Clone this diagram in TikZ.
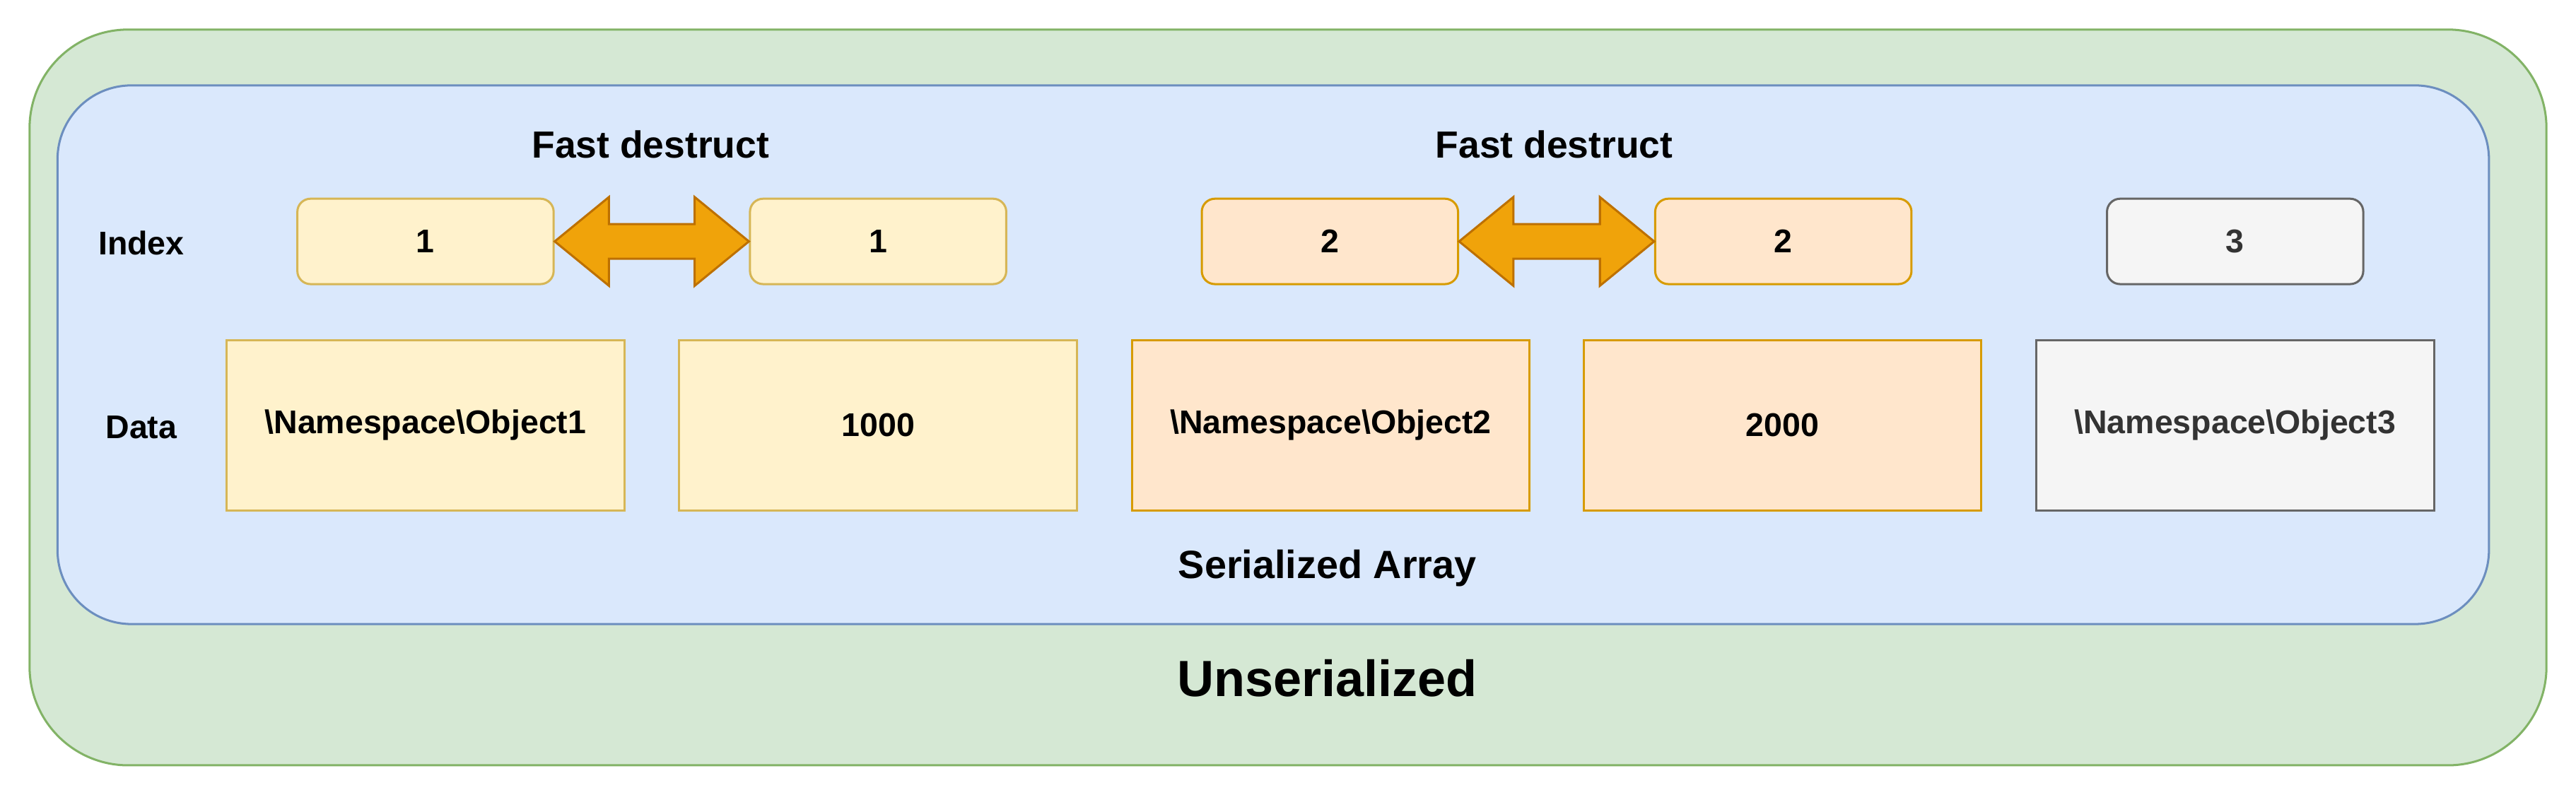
\documentclass[tikz,border=0pt]{standalone}
\usepackage{fontspec}
\setmainfont{Liberation Sans}
\begin{document}
\begin{tikzpicture}[x=1pt,y=-1pt,
  lbl/.style={font=\fontsize{20}{24}\selectfont\bfseries},
  ybox/.style={draw=yellowS,fill=yellowF,line width=1.3pt},
  obox/.style={draw=orangeS,fill=orangeF,line width=1.3pt},
  gbox/.style={draw=greyS,fill=greyF,line width=1.3pt,text=greyT},
  arr/.style={draw=arrS,fill=arrF,line width=1.3pt,line join=miter}]
\definecolor{yellowF}{HTML}{FFF2CC}\definecolor{yellowS}{HTML}{D6B656}
\definecolor{orangeF}{HTML}{FFE6CC}\definecolor{orangeS}{HTML}{D79B00}
\definecolor{greyF}{HTML}{F5F5F5}\definecolor{greyS}{HTML}{666666}\definecolor{greyT}{HTML}{333333}
\definecolor{arrF}{HTML}{F0A30A}\definecolor{arrS}{HTML}{BD7000}
\definecolor{gF}{HTML}{D5E8D4}\definecolor{gS}{HTML}{82B366}
\definecolor{bF}{HTML}{DAE8FC}\definecolor{bS}{HTML}{6C8EBF}
\useasboundingbox (0,0) rectangle (1568,484);
\draw[fill=gF,draw=gS,line width=1.3pt,rounded corners=60pt] (18,18) rectangle (1550,466);
\draw[fill=bF,draw=bS,line width=1.3pt,rounded corners=45pt] (35,52) rectangle (1515,380);
\node[lbl,font=\fontsize{23}{28}\selectfont\bfseries] (fd1) at (396,88) {Fast destruct};
\node[lbl,font=\fontsize{23}{28}\selectfont\bfseries] (fd2) at (946,88) {Fast destruct};
\node[lbl] (il) at (86,148) {Index};
\node[lbl] (dl) at (86,260) {Data};
\foreach \n/\x/\s/\t in {i1/259/ybox/1,i2/534.5/ybox/1,i3/809.5/obox/2,i4/1085.5/obox/2,i5/1360.5/gbox/3}
  \node[\s,lbl,rounded corners=8pt,minimum width=156pt,minimum height=52pt] (\n) at (\x,147) {\t};
\foreach \n/\x/\s/\t in {d1/259/ybox/\textbackslash Namespace\textbackslash Object1,d2/534.5/ybox/1000,d3/810/obox/\textbackslash Namespace\textbackslash Object2,d4/1085/obox/2000,d5/1360.5/gbox/\textbackslash Namespace\textbackslash Object3}
  \node[\s,lbl,minimum width=242pt,minimum height=104pt] (\n) at (\x,259) {\t};
\foreach \a/\b in {i1/i2,i3/i4}
  \path[arr] (\a.east) -- ([xshift=33pt,yshift=-27pt]\a.east) -- ([xshift=33pt,yshift=-10.5pt]\a.east)
   -- ([xshift=-33pt,yshift=-10.5pt]\b.west) -- ([xshift=-33pt,yshift=-27pt]\b.west) -- (\b.west)
   -- ([xshift=-33pt,yshift=27pt]\b.west) -- ([xshift=-33pt,yshift=10.5pt]\b.west)
   -- ([xshift=33pt,yshift=10.5pt]\a.east) -- ([xshift=33pt,yshift=27pt]\a.east) -- cycle;
\node[lbl,font=\fontsize{24}{29}\selectfont\bfseries] (sa) at (808,346) {Serialized Array};
\node[lbl,font=\fontsize{31}{37}\selectfont\bfseries] (us) at (808,413) {Unserialized};
\end{tikzpicture}
\end{document}
